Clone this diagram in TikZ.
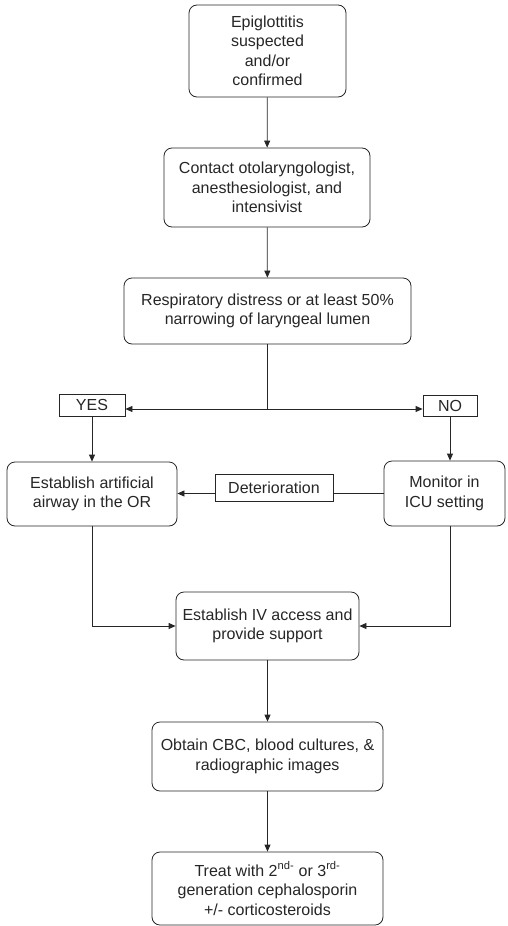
\documentclass[tikz,border=0pt]{standalone}
\usepackage{fontspec}
\setmainfont{Liberation Sans}
\usetikzlibrary{arrows.meta}
\begin{document}
\begin{tikzpicture}[x=1pt,y=-1pt,
  every node/.style={font=\fontsize{16}{19.5}\selectfont, align=center, inner sep=0pt, text=black!85},
  rbox/.style={draw=black!85, line width=0.8pt, rounded corners=8pt},
  sbox/.style={draw=black!85, line width=0.8pt},
  conn/.style={draw=black!85, line width=0.8pt},
  arr/.style={conn, -{Triangle[length=7pt,width=6pt]}}]
\useasboundingbox (0,0) rectangle (507,926);
\node[rbox, minimum width=157pt, minimum height=92pt] (b1) at (267.5,51) {Epiglottitis\\suspected\\and/or\\confirmed};
\node[rbox, minimum width=206pt, minimum height=79pt] (b2) at (267,187.5) {Contact otolaryngologist,\\anesthesiologist, and\\intensivist};
\node[rbox, minimum width=287pt, minimum height=66pt] (b3) at (267.5,311) {Respiratory distress or at least 50\%\\narrowing of laryngeal lumen};
\node[sbox, minimum width=66pt, minimum height=22pt] (yes) at (92,405) {YES};
\node[sbox, minimum width=54pt, minimum height=21pt] (no) at (450,405.5) {NO};
\node[rbox, minimum width=170pt, minimum height=64pt] (b4) at (92,494) {Establish artificial\\airway in the OR};
\node[sbox, minimum width=118pt, minimum height=27pt] (det) at (274,487.5) {Deterioration};
\node[rbox, minimum width=121pt, minimum height=65pt] (mon) at (444.5,493.5) {Monitor in\\ICU setting};
\node[rbox, minimum width=183pt, minimum height=68pt] (b5) at (267.5,626) {Establish IV access and\\provide support};
\node[rbox, minimum width=231pt, minimum height=69pt] (b6) at (267.5,756.5) {Obtain CBC, blood cultures, \&\\radiographic images};
\node[rbox, minimum width=231pt, minimum height=73pt] (b7) at (267.5,888.5) {Treat with 2\textsuperscript{nd-} or 3\textsuperscript{rd-}\\generation cephalosporin\\+/- corticosteroids};
\coordinate (j) at (267.5,409);
\draw[arr] (b1) -- (b2);
\draw[arr] (b2) -- (b3);
\draw[conn] (b3.south) -- (j);
\draw[arr] (j) -- (j -| yes.east);
\draw[arr] (j) -- (j -| no.west);
\draw[arr] (yes.south) -- (yes.south |- b4.north);
\draw[arr] (no.south) -- (no.south |- mon.north);
\draw[conn] (mon.west) -- (mon.west -| det.east);
\draw[arr] (det.west |- mon.west) -- (b4.east |- mon.west);
\draw[arr] (yes.south |- b4.south) |- (b5.west);
\draw[arr] (no.south |- mon.south) |- (b5.east);
\draw[arr] (b5) -- (b6);
\draw[arr] (b6) -- (b7);
\end{tikzpicture}
\end{document}
